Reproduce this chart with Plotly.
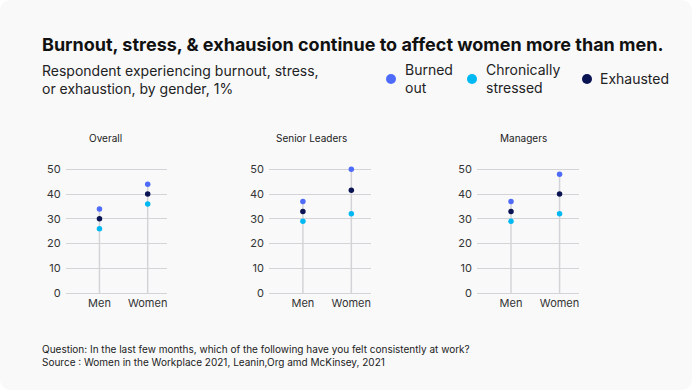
import plotly.graph_objects as go

W, H = 692, 390

panels = ["Overall", "Senior Leaders", "Managers"]
genders = ["Men", "Women"]
burned_out = [[34, 44], [37, 50], [37, 48]]
chronically_stressed = [[26, 36], [29, 32], [29, 32]]
exhausted = [[30, 40], [33, 41.5], [33, 40]]
y_ticks = [0, 10, 20, 30, 40, 50]

series = [
    ("Burned<br>out", burned_out, "#4f6bfa"),
    ("Chronically<br>stressed", chronically_stressed, "#00b8f2"),
    ("Exhausted", exhausted, "#0b1452"),
]

FONT = "Inter, Noto Sans, sans-serif"

fig = go.Figure()

x_domains = [(65.7, 167.0), (269.0, 370.7), (477.0, 579.0)]
title_x = [105, 311.7, 523]
y_bottom_px, y_top_px = 293.0, 164.4

for i, name in enumerate(panels):
    xa = "x" if i == 0 else f"x{i+1}"
    ya = "y" if i == 0 else f"y{i+1}"
    for j in range(2):
        top = max(burned_out[i][j], chronically_stressed[i][j], exhausted[i][j])
        fig.add_trace(go.Scatter(x=[j, j], y=[0, top], mode="lines",
                                 line=dict(color="#d4d4d8", width=1.5),
                                 xaxis=xa, yaxis=ya, showlegend=False, hoverinfo="skip"))
    for label, vals, col in series:
        fig.add_trace(go.Scatter(x=[0, 1], y=vals[i], mode="markers",
                                 marker=dict(color=col, size=5.5),
                                 xaxis=xa, yaxis=ya, showlegend=False, cliponaxis=False))
    d = x_domains[i]
    fig.layout[f"xaxis{'' if i == 0 else i+1}"] = dict(
        domain=[d[0] / W, d[1] / W], range=[-0.7, 1.4], anchor=ya,
        tickvals=[0, 1], ticktext=genders, showgrid=False, zeroline=False,
        showline=False, ticks="", ticklabelstandoff=2,
        tickfont=dict(size=11, color="#333", family=FONT),
        fixedrange=True, automargin=False)
    fig.layout[f"yaxis{'' if i == 0 else i+1}"] = dict(
        domain=[(H - y_bottom_px) / H, (H - y_top_px) / H], range=[0, 52], anchor=xa,
        tickvals=y_ticks, showgrid=True, gridcolor="#d4d4d8", gridwidth=1,
        zeroline=True, zerolinecolor="#d4d4d8", zerolinewidth=1, showline=False,
        ticks="", ticklabelstandoff=4, tickfont=dict(size=11, color="#333", family=FONT),
        fixedrange=True, automargin=False)
    fig.add_annotation(x=title_x[i] / W, y=1 - 138 / H, xref="paper", yref="paper",
                       text=name, showarrow=False, xanchor="center", yanchor="middle",
                       font=dict(size=10, color="#222", family=FONT))

r = 12
path = (f"M {r/W},0 L {1-r/W},0 Q 1,0 1,{r/H} L 1,{1-r/H} Q 1,1 {1-r/W},1 "
        f"L {r/W},1 Q 0,1 0,{1-r/H} L 0,{r/H} Q 0,0 {r/W},0 Z")
fig.add_shape(type="path", path=path, xref="paper", yref="paper",
              fillcolor="#f9f9fa", line=dict(width=0), layer="below")

fig.add_annotation(x=40 / W, y=1 - 44 / H, xref="paper", yref="paper", showarrow=False,
                   xanchor="left", yanchor="middle",
                   text="<b>Burnout, stress, & exhausion continue to affect women more than men.</b>",
                   font=dict(size=18, color="#111", family=FONT))
fig.add_annotation(x=40 / W, y=1 - 80 / H, xref="paper", yref="paper", showarrow=False,
                   xanchor="left", yanchor="middle", align="left",
                   text="Respondent experiencing burnout, stress,<br>or exhaustion, by gender, 1%",
                   font=dict(size=14, color="#222", family=FONT))

leg_x = [391, 472, 587]
leg_text_x = [402.5, 484, 598]
for (label, vals, col), cx, tx in zip(series, leg_x, leg_text_x):
    rad = 5
    fig.add_shape(type="circle", xref="paper", yref="paper",
                  x0=(cx - rad) / W, x1=(cx + rad) / W,
                  y0=1 - (79 + rad) / H, y1=1 - (79 - rad) / H,
                  fillcolor=col, line=dict(width=0))
    fig.add_annotation(x=tx / W, y=1 - 79 / H, xref="paper", yref="paper", showarrow=False,
                       xanchor="left", yanchor="middle", align="left", text=label,
                       font=dict(size=14, color="#222", family=FONT))

fig.add_annotation(x=40 / W, y=1 - 355 / H, xref="paper", yref="paper", showarrow=False,
                   xanchor="left", yanchor="middle", align="left",
                   text="Question: In the last few months, which of the following have you felt consistently at work?<br>"
                        "Source : Women in the Workplace 2021, Leanin,Org amd McKinsey, 2021",
                   font=dict(size=10, color="#222", family=FONT))

fig.update_layout(width=W, height=H, margin=dict(l=0, r=0, t=0, b=0, pad=0, autoexpand=False),
                  paper_bgcolor="white", plot_bgcolor="rgba(0,0,0,0)",
                  showlegend=False, font=dict(family=FONT))

post = ("document.documentElement.style.margin='0';"
        "document.documentElement.style.overflow='hidden';"
        "document.body.style.margin='0';"
        "document.body.style.overflow='hidden';")

fig.write_html("out.html", config={"displayModeBar": False}, post_script=post)
